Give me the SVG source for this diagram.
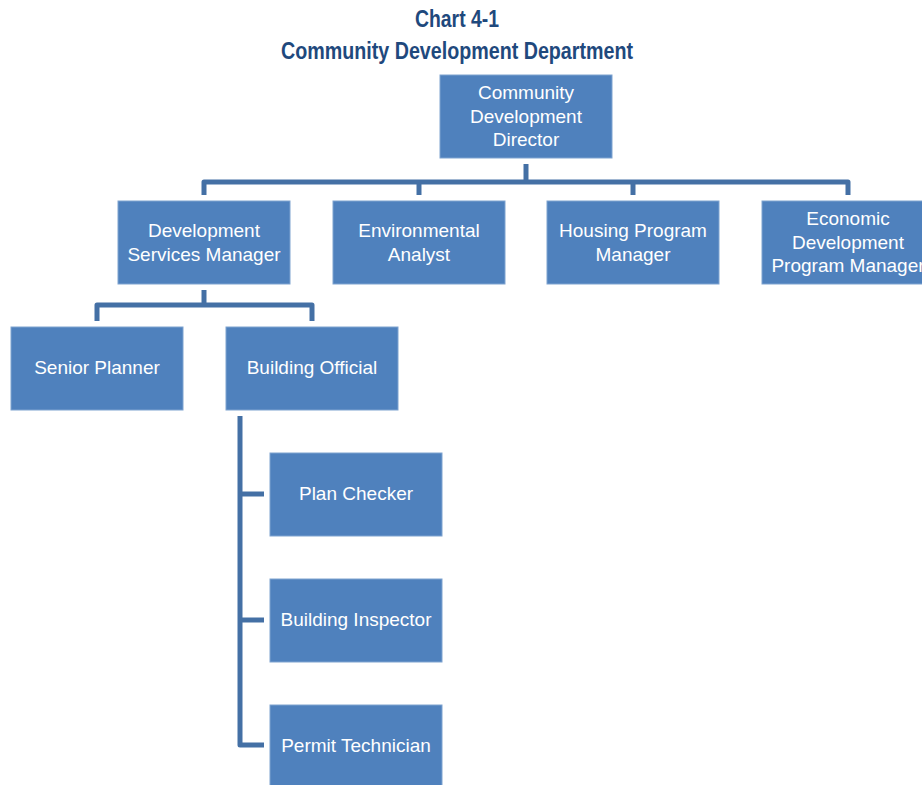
<svg xmlns="http://www.w3.org/2000/svg" width="922" height="785" viewBox="0 0 922 785">
<style>
.box{fill:#4F81BD;stroke:#7FA3D0;stroke-width:1}
.lbl{fill:#ffffff;font-family:"Liberation Sans",Arial,sans-serif;font-size:19px;text-anchor:middle}
.ttl{fill:#1F497D;font-family:"Liberation Sans",Arial,sans-serif;font-weight:bold;font-size:23px;text-anchor:middle}
.con{fill:none;stroke:#4470A5;stroke-width:5;stroke-linejoin:round;stroke-linecap:butt}
</style>
<rect width="922" height="785" fill="#ffffff"/>
<g id="title">
<text class="ttl" x="457" y="27" textLength="84" lengthAdjust="spacingAndGlyphs">Chart 4-1</text>
<text class="ttl" x="457" y="59" textLength="352" lengthAdjust="spacingAndGlyphs">Community Development Department</text>
</g>
<g id="connectors">
<path class="con" d="M526,164 V182"/>
<path class="con" d="M204,195 V182 H848 V195"/>
<path class="con" d="M419,182 V195"/>
<path class="con" d="M633,182 V195"/>
<path class="con" d="M204,290 V305"/>
<path class="con" d="M97,321 V305 H312 V321"/>
<path class="con" d="M240,416 V745 H264"/>
<path class="con" d="M240,494 H264"/>
<path class="con" d="M240,620 H264"/>
</g>
<g id="director">
<rect class="box" x="440" y="75" width="172" height="83"/>
<text class="lbl" x="526" y="99">Community</text>
<text class="lbl" x="526" y="123">Development</text>
<text class="lbl" x="526" y="146">Director</text>
</g>
<g id="dsm">
<rect class="box" x="118" y="201" width="172" height="83"/>
<text class="lbl" x="204" y="237">Development</text>
<text class="lbl" x="204" y="261">Services Manager</text>
</g>
<g id="env">
<rect class="box" x="333" y="201" width="172" height="83"/>
<text class="lbl" x="419" y="237">Environmental</text>
<text class="lbl" x="419" y="261">Analyst</text>
</g>
<g id="housing">
<rect class="box" x="547" y="201" width="172" height="83"/>
<text class="lbl" x="633" y="237">Housing Program</text>
<text class="lbl" x="633" y="261">Manager</text>
</g>
<g id="econ">
<rect class="box" x="762" y="201" width="172" height="83"/>
<text class="lbl" x="848" y="225">Economic</text>
<text class="lbl" x="848" y="249">Development</text>
<text class="lbl" x="848" y="272">Program Manager</text>
</g>
<g id="senior">
<rect class="box" x="11" y="327" width="172" height="83"/>
<text class="lbl" x="97" y="374">Senior Planner</text>
</g>
<g id="building">
<rect class="box" x="226" y="327" width="172" height="83"/>
<text class="lbl" x="312" y="374">Building Official</text>
</g>
<g id="plan">
<rect class="box" x="270" y="453" width="172" height="83"/>
<text class="lbl" x="356" y="500">Plan Checker</text>
</g>
<g id="inspector">
<rect class="box" x="270" y="579" width="172" height="83"/>
<text class="lbl" x="356" y="626">Building Inspector</text>
</g>
<g id="permit">
<rect class="box" x="270" y="705" width="172" height="83"/>
<text class="lbl" x="356" y="752">Permit Technician</text>
</g>
</svg>
